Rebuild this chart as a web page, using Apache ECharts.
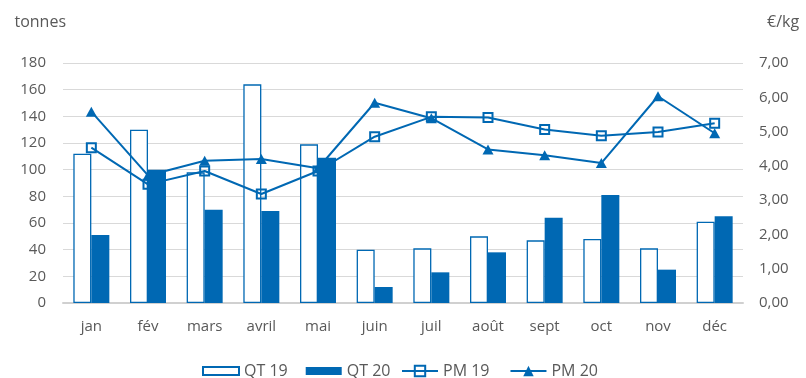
<!DOCTYPE html>
<html>
<head>
<meta charset="utf-8">
<script src="https://cdn.jsdelivr.net/npm/echarts@6/dist/echarts.min.js"></script>
<style>
  html, body { margin: 0; padding: 0; background: #ffffff; }
  #chart { width: 806px; height: 378px; }
</style>
</head>
<body>
<div id="chart"></div>
<script>
// Monthly quantities (tonnes) and average prices (€/kg), 2019 vs 2020
const months = ['jan', 'fév', 'mars', 'avril', 'mai', 'juin', 'juil', 'août', 'sept', 'oct', 'nov', 'déc'];
const qt19 = [112, 130, 98, 164, 119, 40, 41, 50, 47, 48, 41, 61];
const qt20 = [51, 100, 70, 69, 109, 12, 23, 38, 64, 81, 25, 65];
const pm19 = [4.53, 3.46, 3.85, 3.18, 3.85, 4.85, 5.43, 5.41, 5.06, 4.88, 4.99, 5.24];
const pm20 = [5.58, 3.72, 4.15, 4.2, 3.93, 5.84, 5.39, 4.48, 4.31, 4.08, 6.03, 4.95];

const BLUE = '#0068b3';
const TEXT = '#595959';
const FONT = 'Open Sans';

const chart = echarts.init(document.getElementById('chart'), null, { renderer: 'canvas' });

const legendText = { fontFamily: FONT, fontSize: 16, color: TEXT };

chart.setOption({
  animation: false,
  backgroundColor: '#ffffff',
  textStyle: { fontFamily: FONT, color: TEXT },
  grid: { left: 63, right: 63, top: 63, bottom: 75 },
  legend: [
    {
      // bar series keys
      left: 197,
      top: 358,
      itemWidth: 36,
      itemHeight: 8,
      itemGap: 18,
      textStyle: legendText,
      data: [
        { name: 'QT 19', icon: 'rect' },
        { name: 'QT 20', icon: 'rect' }
      ]
    },
    {
      // line series keys
      left: 396,
      top: 358,
      itemWidth: 36,
      itemHeight: 13,
      itemGap: 20,
      textStyle: legendText,
      data: [{ name: 'PM 19' }, { name: 'PM 20' }]
    }
  ],
  xAxis: {
    type: 'category',
    data: months,
    axisTick: { show: false },
    axisLine: { lineStyle: { color: '#d0d0d0', width: 2 } },
    axisLabel: { color: TEXT, fontFamily: FONT, fontSize: 15, margin: 16 }
  },
  yAxis: [
    {
      type: 'value',
      min: 0, max: 180, interval: 20,
      name: 'tonnes',
      nameLocation: 'end',
      nameGap: 33,
      nameTextStyle: { fontFamily: FONT, fontSize: 16, color: TEXT, align: 'right', padding: [0, -3, 0, 0] },
      axisLine: { show: false },
      axisTick: { show: false },
      axisLabel: { color: TEXT, fontFamily: FONT, fontSize: 15, margin: 17 },
      splitLine: { lineStyle: { color: '#d9d9d9', width: 1 } }
    },
    {
      type: 'value',
      min: 0, max: 7, interval: 1,
      name: '€/kg',
      nameLocation: 'end',
      nameGap: 33,
      nameTextStyle: { fontFamily: FONT, fontSize: 16, color: TEXT, align: 'left', padding: [0, 0, 0, 24] },
      axisLine: { show: false },
      axisTick: { show: false },
      axisLabel: {
        color: TEXT, fontFamily: FONT, fontSize: 15, margin: 16,
        formatter: v => v.toFixed(2).replace('.', ',')
      },
      splitLine: { show: false }
    }
  ],
  series: [
    {
      name: 'QT 19',
      type: 'bar',
      yAxisIndex: 0,
      data: qt19,
      barWidth: 18,
      barGap: '0%',
      z: 1,
      itemStyle: { color: '#ffffff', borderColor: BLUE, borderWidth: 1.3 }
    },
    {
      name: 'QT 20',
      type: 'bar',
      yAxisIndex: 0,
      data: qt20,
      barWidth: 18,
      barGap: '0%',
      z: 3,
      itemStyle: { color: BLUE }
    },
    {
      name: 'PM 19',
      type: 'line',
      yAxisIndex: 1,
      data: pm19,
      z: 2,
      symbol: 'rect',
      symbolSize: 9,
      showAllSymbol: true,
      lineStyle: { color: BLUE, width: 2 },
      itemStyle: { color: 'rgba(255,255,255,0)', borderColor: BLUE, borderWidth: 2 }
    },
    {
      name: 'PM 20',
      type: 'line',
      yAxisIndex: 1,
      data: pm20,
      z: 2,
      symbol: 'triangle',
      symbolSize: [11, 10],
      showAllSymbol: true,
      lineStyle: { color: BLUE, width: 2 },
      itemStyle: { color: BLUE, borderWidth: 0 }
    }
  ]
});
</script>
</body>
</html>
